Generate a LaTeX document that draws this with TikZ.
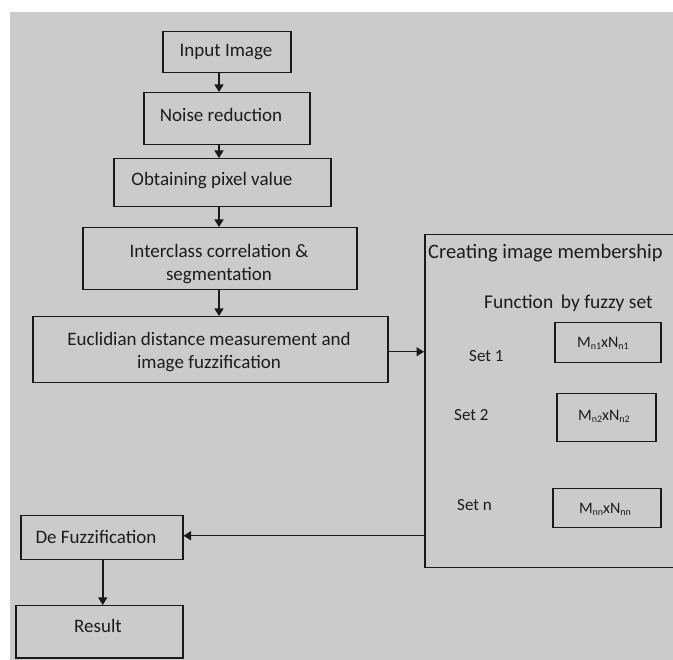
\documentclass[tikz,border=0pt]{standalone}
\usepackage{fontspec}
\setmainfont{Carlito}
\usetikzlibrary{arrows.meta}
\definecolor{bg}{HTML}{CBCBCB}
\definecolor{ln}{HTML}{1A1A1A}
\definecolor{tx}{HTML}{1C1C1C}
\newcommand{\msub}[1]{\raisebox{-2.2pt}{\fontsize{10}{10}\selectfont #1}}
\tikzset{
  box/.style={draw=ln, line width=1.5pt, rectangle, inner sep=0pt, anchor=north west},
  lbl/.style={text=tx, inner sep=0pt, font=\fontsize{19}{23.5}\selectfont, align=center},
  setlbl/.style={text=tx, inner sep=0pt, font=\fontsize{17}{20}\selectfont, anchor=west},
  mlbl/.style={text=tx, inner sep=0pt, font=\fontsize{16}{19}\selectfont},
  arr/.style={draw=ln, line width=1.5pt, -{Triangle[length=7.5pt,width=9pt]}}
}
\begin{document}
\begin{tikzpicture}[x=1pt,y=-1pt]
\useasboundingbox (0,0) rectangle (673,660);
\clip (0,0) rectangle (673,660);
\fill[white] (0,0) rectangle (673,660);
\fill[bg] (10,12) rectangle (673,660);
\coordinate (axis) at (219,0);
% main chain
\node[box, minimum width=128pt, minimum height=41pt] (n1) at (162,31) {};
\node[lbl] (n1t) at (226,52) {Input Image};
\node[box, minimum width=166pt, minimum height=52pt] (n2) at (143,92) {};
\node[lbl] (n2t) at (221,115) {Noise reduction};
\node[box, minimum width=217pt, minimum height=48pt] (n3) at (113,158) {};
\node[lbl] (n3t) at (212,181) {Obtaining pixel value};
\node[box, minimum width=274pt, minimum height=62pt] (n4) at (82,227) {};
\node[lbl] (n4t) at (219,264) {Interclass correlation \&\\segmentation};
\node[box, minimum width=355pt, minimum height=66pt] (n5) at (32,316) {};
\node[lbl] (n5t) at (209,352) {Euclidian distance measurement and\\image fuzzification};
% fuzzy block
\node[box, minimum width=262pt, minimum height=333pt] (fz) at (424,234) {};
\node[lbl, anchor=west, font=\fontsize{20.5}{24}\selectfont] (fzt1) at (428,253) {Creating image membership};
\node[lbl, anchor=west, font=\fontsize{19.5}{24}\selectfont] (fzt2) at (484,303) {Function\, by fuzzy set};
\node[setlbl] (s1) at (469,356) {Set 1};
\node[setlbl] (s2) at (454,415) {Set 2};
\node[setlbl] (sn) at (457,505) {Set n};
\node[box, minimum width=106pt, minimum height=40pt] (m1) at (554,322) {};
\node[mlbl] (m1t) at (603,343) {M\msub{n1}xN\msub{n1}};
\node[box, minimum width=99pt, minimum height=48pt] (m2) at (556,393) {};
\node[mlbl] (m2t) at (604,416) {M\msub{n2}xN\msub{n2}};
\node[box, minimum width=108pt, minimum height=39pt] (mn) at (552,488) {};
\node[mlbl] (mnt) at (605,509) {M\msub{nn}xN\msub{nn}};
% output
\node[box, minimum width=162pt, minimum height=44pt] (d) at (20,515) {};
\node[lbl] (dt) at (96,537) {De Fuzzification};
\node[box, minimum width=167pt, minimum height=52pt] (r) at (15,605) {};
\node[lbl] (rt) at (98,626) {Result};
% connectors
\draw[arr] (axis |- n1.south) -- (axis |- n2.north);
\draw[arr] (axis |- n2.south) -- (axis |- n3.north);
\draw[arr] (axis |- n3.south) -- (axis |- n4.north);
\draw[arr] (axis |- n4.south) -- (axis |- n5.north);
\draw[arr] ([yshift=-2pt]n5.east) -- ([yshift=-2pt]n5.east -| fz.west);
\draw[arr] ([yshift=2pt]d.east -| fz.west) -- ([yshift=2pt]d.east);
\draw[arr] ([xshift=1pt]d.south) -- ([xshift=1pt]d.south |- r.north);
\end{tikzpicture}
\end{document}
